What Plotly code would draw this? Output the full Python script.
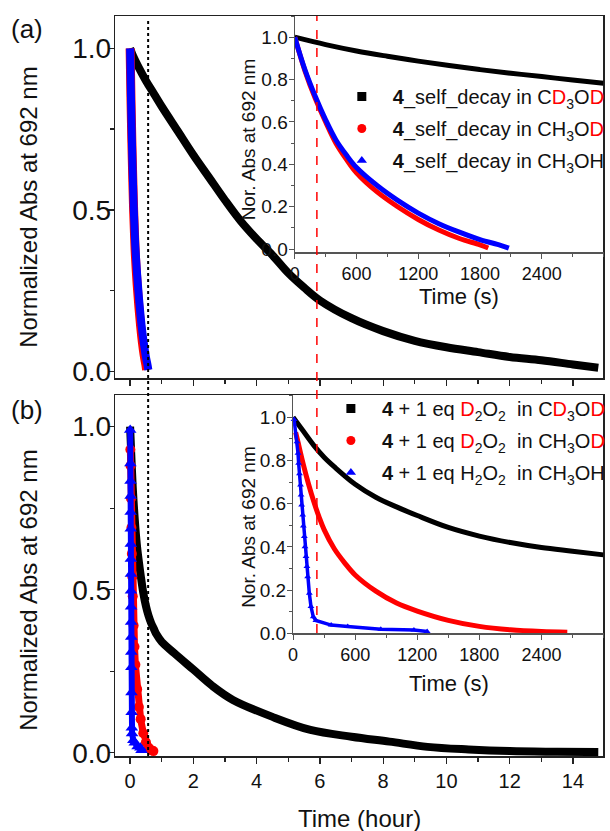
import plotly.graph_objects as go

# ---------------- data ----------------
# Panel (a) main: 4 self decay in CD3OD (long run), time in hours
A_BLACK_H = [0.0, 0.1, 0.25, 0.5, 0.75, 1.0, 1.5, 2.0, 2.5, 3.0, 3.5, 4.0, 4.5, 5.0, 5.5,
             6.0, 7.0, 8.0, 9.0, 10.0, 11.0, 12.0, 13.0, 14.0, 14.8]
A_BLACK_V = [1.0, 0.975, 0.945, 0.9, 0.86, 0.82, 0.745, 0.67, 0.6, 0.53, 0.465, 0.41, 0.36, 0.305, 0.26,
             0.22, 0.165, 0.125, 0.095, 0.075, 0.06, 0.045, 0.035, 0.022, 0.012]

# Inset (a), time in seconds
IA_BLACK_T = [0, 300, 600, 900, 1200, 1500, 1800, 2100, 2400, 2700, 3000]
IA_BLACK_V = [1.0, 0.965, 0.935, 0.91, 0.887, 0.866, 0.847, 0.83, 0.814, 0.798, 0.783]
IA_RED_T = [0, 100, 200, 300, 400, 500, 600, 800, 1000, 1200, 1400, 1600, 1800, 1880]
IA_RED_V = [1.0, 0.84, 0.71, 0.6, 0.5, 0.425, 0.36, 0.27, 0.2, 0.14, 0.09, 0.05, 0.02, 0.005]
IA_BLUE_T = [0, 100, 200, 300, 400, 500, 600, 800, 1000, 1200, 1400, 1600, 1800, 2000, 2080]
IA_BLUE_V = [1.0, 0.845, 0.72, 0.61, 0.515, 0.445, 0.385, 0.3, 0.23, 0.17, 0.12, 0.08, 0.045, 0.018, 0.005]

# Panel (b) main: 4 + 1 eq D2O2 in CD3OD (long run), time in hours
B_BLACK_H = [0.0, 0.028, 0.056, 0.083, 0.11, 0.167, 0.222, 0.278, 0.333, 0.417, 0.5, 0.583, 0.667,
             0.75, 0.833, 1.0, 1.4, 2.0, 2.6, 3.25, 4.5, 5.7, 7.0, 8.2, 9.4, 10.7, 12.0, 13.5, 14.8]
B_BLACK_V = [1.0, 0.935, 0.87, 0.815, 0.77, 0.69, 0.63, 0.585, 0.545, 0.49, 0.45, 0.42, 0.397,
             0.38, 0.363, 0.34, 0.305, 0.255, 0.205, 0.162, 0.11, 0.07, 0.049, 0.034, 0.018, 0.01, 0.005, 0.003, 0.002]

# Inset (b), time in seconds
IB_BLACK_T = [0, 100, 200, 300, 400, 600, 800, 1000, 1200, 1500, 1800, 2100, 2400, 2700, 3000]
IB_BLACK_V = [1.0, 0.935, 0.87, 0.815, 0.77, 0.69, 0.63, 0.585, 0.545, 0.49, 0.45, 0.42, 0.397, 0.38, 0.363]
IB_RED_T = [25, 50, 100, 150, 200, 250, 300, 400, 500, 600, 800, 1000, 1200, 1500, 1800, 2100, 2400, 2650]
IB_RED_V = [0.93, 0.88, 0.78, 0.69, 0.61, 0.54, 0.48, 0.39, 0.325, 0.27, 0.195, 0.14, 0.103, 0.06, 0.032,
            0.016, 0.008, 0.005]
IB_BLUE_T = [10, 38, 48, 54, 62, 72, 77, 83, 93, 99, 109, 115, 125, 134, 141, 157, 173, 195, 220,
             368, 528, 848, 1168, 1296]
IB_BLUE_V = [0.99, 0.887, 0.833, 0.787, 0.738, 0.687, 0.64, 0.594, 0.548, 0.497, 0.448, 0.401, 0.355,
             0.309, 0.262, 0.185, 0.124, 0.077, 0.059, 0.038, 0.031, 0.019, 0.015, 0.008]

DOTTED_H = 0.57      # black dotted marker line (hours)
DASHED_S = 215       # red dashed marker line (seconds)

LEG_A = [
    "<b>4</b>_self_decay in C<span style='color:red'>D</span><sub>3</sub>O<span style='color:red'>D</span>",
    "<b>4</b>_self_decay in CH<sub>3</sub>O<span style='color:red'>D</span>",
    "<b>4</b>_self_decay in CH<sub>3</sub>OH",
]
LEG_B = [
    "<b>4</b> + 1 eq <span style='color:red'>D</span><sub>2</sub>O<sub>2</sub>\u00a0 in C<span style='color:red'>D</span><sub>3</sub>O<span style='color:red'>D</span>",
    "<b>4</b> + 1 eq <span style='color:red'>D</span><sub>2</sub>O<sub>2</sub>\u00a0 in CH<sub>3</sub>O<span style='color:red'>D</span>",
    "<b>4</b> + 1 eq H<sub>2</sub>O<sub>2</sub>\u00a0 in CH<sub>3</sub>OH",
]

BLACK, RED, BLUE = "#000000", "#ff0000", "#0000ff"
FONT = "Arial, Liberation Sans, sans-serif"
W, H = 610, 831


def fx(p):
    return p / W


def fy(p):
    return 1 - p / H


def hours(ts):
    return [t / 3600.0 for t in ts]


fig = go.Figure()

# ---- main (a)
fig.add_trace(go.Scatter(x=A_BLACK_H, y=A_BLACK_V, mode="lines", line=dict(color=BLACK, width=8, shape="spline"),
                         xaxis="x", yaxis="y", showlegend=False))
fig.add_trace(go.Scatter(x=hours(IA_RED_T), y=IA_RED_V, mode="lines", line=dict(color=RED, width=9, shape="spline"),
                         xaxis="x", yaxis="y", showlegend=False))
fig.add_trace(go.Scatter(x=hours(IA_BLUE_T), y=IA_BLUE_V, mode="lines", line=dict(color=BLUE, width=8, shape="spline"),
                         xaxis="x", yaxis="y", showlegend=False))

# ---- inset (a)
fig.add_trace(go.Scatter(x=IA_BLACK_T, y=IA_BLACK_V, mode="lines", line=dict(color=BLACK, width=5, shape="spline"),
                         xaxis="x3", yaxis="y3", showlegend=False))
fig.add_trace(go.Scatter(x=IA_RED_T, y=IA_RED_V, mode="lines", line=dict(color=RED, width=5, shape="spline"),
                         xaxis="x3", yaxis="y3", showlegend=False))
fig.add_trace(go.Scatter(x=IA_BLUE_T, y=IA_BLUE_V, mode="lines", line=dict(color=BLUE, width=5, shape="spline"),
                         xaxis="x3", yaxis="y3", showlegend=False))

# ---- main (b)
fig.add_trace(go.Scatter(x=B_BLACK_H, y=B_BLACK_V, mode="lines", line=dict(color=BLACK, width=8, shape="spline"),
                         xaxis="x2", yaxis="y2", showlegend=False))
fig.add_trace(go.Scatter(x=hours(IB_RED_T), y=IB_RED_V, mode="lines+markers", line=dict(color=RED, width=7),
                         marker=dict(symbol="circle", size=10, color=RED),
                         xaxis="x2", yaxis="y2", showlegend=False, cliponaxis=False))
fig.add_trace(go.Scatter(x=hours(IB_BLUE_T), y=IB_BLUE_V, mode="lines+markers", line=dict(color=BLUE, width=6),
                         marker=dict(symbol="triangle-up", size=11, color=BLUE),
                         xaxis="x2", yaxis="y2", showlegend=False, cliponaxis=False))

# ---- inset (b)
fig.add_trace(go.Scatter(x=IB_BLACK_T, y=IB_BLACK_V, mode="lines", line=dict(color=BLACK, width=5, shape="spline"),
                         xaxis="x4", yaxis="y4", showlegend=False))
fig.add_trace(go.Scatter(x=IB_RED_T, y=IB_RED_V, mode="lines", line=dict(color=RED, width=5, shape="spline"),
                         xaxis="x4", yaxis="y4", showlegend=False, cliponaxis=False))
fig.add_trace(go.Scatter(x=IB_BLUE_T, y=IB_BLUE_V, mode="lines+markers", line=dict(color=BLUE, width=3.5),
                         marker=dict(symbol="triangle-up", size=6, color=BLUE),
                         xaxis="x4", yaxis="y4", showlegend=False, cliponaxis=False))

# ---- legend entries
for i, (name, sym, col) in enumerate(zip(LEG_A, ["square", "circle", "triangle-up"], [BLACK, RED, BLUE])):
    fig.add_trace(go.Scatter(x=[None], y=[None], mode="markers", name=name, legendgroup=f"a{i}",
                             marker=dict(symbol=sym, size=9, color=col),
                             xaxis="x3", yaxis="y3", legend="legend"))
for i, (name, sym, col) in enumerate(zip(LEG_B, ["square", "circle", "triangle-up"], [BLACK, RED, BLUE])):
    fig.add_trace(go.Scatter(x=[None], y=[None], mode="markers", name=name, legendgroup=f"b{i}",
                             marker=dict(symbol=sym, size=9, color=col),
                             xaxis="x4", yaxis="y4", legend="legend2"))

main_axis = dict(showline=True, linecolor="#222", linewidth=1.5, mirror=True, ticks="outside",
                 ticklen=6, tickwidth=1.3, tickcolor="#222", showgrid=False, zeroline=False,
                 automargin=False)
inset_axis = dict(showline=True, linecolor="#555", linewidth=1.2, mirror=False, ticks="outside",
                  ticklen=5, tickwidth=1, tickcolor="#555", showgrid=False, zeroline=False,
                  automargin=False)

XDOM = [fx(116), fx(607)]
XR = [-0.47, 14.95]

fig.update_layout(
    width=W, height=H, margin=dict(l=0, r=0, t=0, b=0),
    paper_bgcolor="white", plot_bgcolor="rgba(0,0,0,0)",
    font=dict(family=FONT, color="#111"),
    hovermode=False,
    xaxis=dict(**main_axis, domain=XDOM, range=XR, anchor="y", tickvals=[0, 2, 4, 6, 8, 10, 12, 14],
               showticklabels=False,
               minor=dict(dtick=1, tick0=0, ticks="outside", ticklen=4, tickcolor="#222")),
    yaxis=dict(**main_axis, domain=[fy(378), fy(16)], range=[-0.02, 1.10], anchor="x",
               tickvals=[0, 0.5, 1.0], ticktext=["0.0", "0.5", "1.0"], tickfont=dict(size=28, family=FONT),
               ticklabelstandoff=-9,
               minor=dict(tickvals=[0.25, 0.75], ticks="outside", ticklen=4, tickcolor="#222")),
    xaxis2=dict(**main_axis, domain=XDOM, range=XR, anchor="y2", tickvals=[0, 2, 4, 6, 8, 10, 12, 14],
                tickfont=dict(size=20, family=FONT),
                minor=dict(dtick=1, tick0=0, ticks="outside", ticklen=4, tickcolor="#222")),
    yaxis2=dict(**main_axis, domain=[fy(756), fy(395)], range=[-0.01, 1.097], anchor="x2",
                tickvals=[0, 0.5, 1.0], ticktext=["0.0", "0.5", "1.0"], tickfont=dict(size=28, family=FONT),
                ticklabelstandoff=-9,
                minor=dict(tickvals=[0.25, 0.75], ticks="outside", ticklen=4, tickcolor="#222")),
    xaxis3=dict(**inset_axis, domain=[fx(296.7), fx(607.5)], range=[0, 3000], anchor="y3",
                tickvals=[0, 600, 1200, 1800, 2400], tickfont=dict(size=18, family=FONT, color="#111"),
                minor=dict(dtick=300, tick0=0, ticks="outside", ticklen=3, tickcolor="#555")),
    yaxis3=dict(**inset_axis, domain=[fy(252.3), fy(16)], range=[-0.015, 1.1], anchor="x3",
                tickvals=[0, 0.2, 0.4, 0.6, 0.8, 1.0], tickformat=".1f",
                tickfont=dict(size=19, family=FONT, color="#111"), ticklabelstandoff=-3,
                minor=dict(dtick=0.1, tick0=0, ticks="outside", ticklen=3, tickcolor="#555")),
    xaxis4=dict(**inset_axis, domain=[fx(295), fx(607.5)], range=[0, 3000], anchor="y4",
                tickvals=[0, 600, 1200, 1800, 2400], tickfont=dict(size=18, family=FONT, color="#111"),
                minor=dict(dtick=300, tick0=0, ticks="outside", ticklen=3, tickcolor="#555")),
    yaxis4=dict(**inset_axis, domain=[fy(633.3), fy(395)], range=[0, 1.103], anchor="x4",
                tickvals=[0, 0.2, 0.4, 0.6, 0.8, 1.0], tickformat=".1f",
                tickfont=dict(size=19, family=FONT, color="#111"), ticklabelstandoff=-3,
                minor=dict(dtick=0.1, tick0=0, ticks="outside", ticklen=3, tickcolor="#555")),
    legend=dict(x=fx(333), y=fy(77), xanchor="left", yanchor="top", bgcolor="rgba(0,0,0,0)",
                font=dict(size=20, family=FONT, color="#111"), borderwidth=0, itemwidth=52,
                tracegroupgap=3),
    legend2=dict(x=fx(322), y=fy(389), xanchor="left", yanchor="top", bgcolor="rgba(0,0,0,0)",
                 font=dict(size=20, family=FONT, color="#111"), borderwidth=0, itemwidth=52,
                 tracegroupgap=3),
)

# marker lines
fig.add_shape(type="line", xref="x", yref="paper", x0=DOTTED_H, x1=DOTTED_H, y0=fy(756), y1=fy(18),
              line=dict(color=BLACK, width=2, dash="dot"))
fig.add_shape(type="line", xref="x3", yref="paper", x0=DASHED_S, x1=DASHED_S, y0=fy(633), y1=fy(16),
              line=dict(color=RED, width=1.5, dash="dash"))

# text labels
ann = [
    dict(text="(a)", x=fx(27), y=fy(29), size=26, angle=0),
    dict(text="(b)", x=fx(27), y=fy(410), size=26, angle=0),
    dict(text="Normalized Abs at 692 nm", x=fx(28), y=fy(207), size=24, angle=-90),
    dict(text="Normalized Abs at 692 nm", x=fx(28), y=fy(590), size=24, angle=-90),
    dict(text="Time (hour)", x=fx(362), y=fy(818), size=24, angle=0),
    dict(text="Nor. Abs at 692 nm", x=fx(250), y=fy(139), size=19, angle=-90),
    dict(text="Nor. Abs at 692 nm", x=fx(249.5), y=fy(527), size=19, angle=-90),
    dict(text="Time (s)", x=fx(461.7), y=fy(296), size=22, angle=0),
    dict(text="Time (s)", x=fx(451.7), y=fy(683), size=22, angle=0),
]
for a in ann:
    fig.add_annotation(text=a["text"], x=a["x"], y=a["y"], xref="paper", yref="paper", showarrow=False,
                       xanchor="center", yanchor="middle", textangle=a["angle"],
                       font=dict(size=a["size"], family=FONT, color="#111"))

fig.write_html("out.html", config={"displayModeBar": False, "staticPlot": True},
               post_script="document.body.style.margin='0px';")
